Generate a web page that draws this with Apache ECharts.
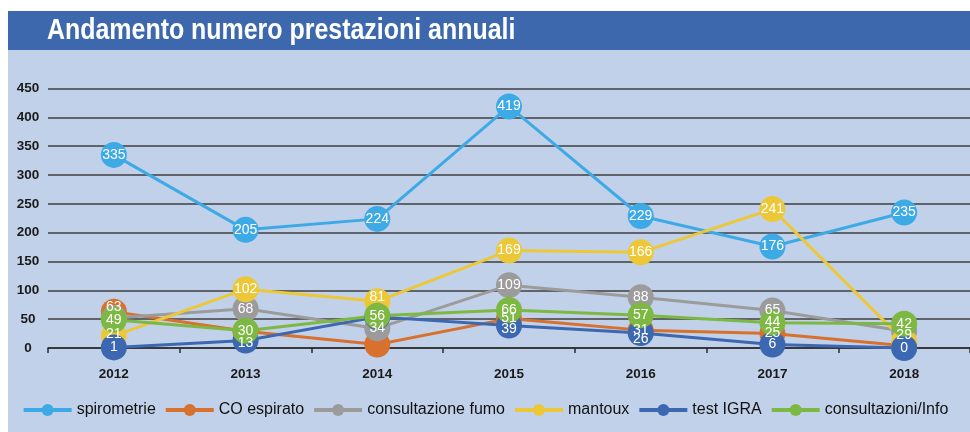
<!DOCTYPE html>
<html>
<head>
<meta charset="utf-8">
<script src="https://cdn.jsdelivr.net/npm/echarts@6/dist/echarts.min.js"></script>
<style>
    html, body { margin: 0; padding: 0; background: #fff; }
    #chart { width: 970px; height: 432px; }
</style>
</head>
<body>
<div id="chart"></div>
<script>
    // anni (asse x)
    var years = ['2012', '2013', '2014', '2015', '2016', '2017', '2018'];

    // valori
    var spirometrie = [335, 205, 224, 419, 229, 176, 235];
    var coEspirato = [63, 29, 6, 51, 31, 25, 4];
    var consultazioneFumo = [52, 68, 34, 109, 88, 65, 29];
    var mantoux = [21, 102, 81, 169, 166, 241, 12];
    var testIgra = [1, 13, 54, 39, 26, 6, 0];
    var consultazioniInfo = [49, 30, 56, 66, 57, 44, 42];

    var yMax = 450;
    var yStep = 50;

    var FONT = '"Liberation Sans", Arial, Helvetica, sans-serif';

    // hidden: etichette coperte nell'originale, shift: piccolo spostamento verticale
    function buildData(values, hidden, shift) {
        return values.map(function (v, i) {
            if (hidden.indexOf(i) > -1) {
                return {value: v, label: {show: false}};
            }
            if (shift[i]) {
                return {value: v, label: {offset: [0, shift[i]]}};
            }
            return v;
        });
    }

    function makeSeries(name, values, color, hidden, shift) {
        return {
            name: name,
            type: 'line',
            data: buildData(values, hidden || [], shift || {}),
            symbol: 'circle',
            symbolSize: 26,
            itemStyle: {color: color},
            lineStyle: {color: color, width: 3},
            label: {
                show: true,
                position: 'inside',
                color: '#fff',
                fontSize: 14,
                fontFamily: FONT
            },
            emphasis: {disabled: true}
        }
    }

    var chart = echarts.init(document.getElementById('chart'));
    var option = {
        animation: false,
        graphic: [
            {
                type: 'rect',
                shape: {x: 8, y: 11, width: 962, height: 39},
                style: {fill: '#3D68AE'},
                z: -10
            },
            {
                type: 'rect',
                shape: {x: 8, y: 50, width: 962, height: 382},
                style: {fill: '#C2D1EA'},
                z: -10
            },
            {
                // titolo con carattere "stretto" come nell'originale
                type: 'text',
                x: 47,
                y: 31,
                scaleX: 0.86,
                style: {
                    text: 'Andamento numero prestazioni annuali',
                    fill: '#fff',
                    font: 'bold 29px ' + FONT,
                    verticalAlign: 'middle'
                },
                z: 10
            }
        ],
        grid: {
            left: 48,
            top: 88.6,
            width: 927,
            bottom: 84,
            containLabel: false
        },
        legend: {
            bottom: 9,
            left: 'center',
            itemWidth: 48,
            itemHeight: 15,
            itemGap: 8,
            textStyle: {
                color: '#111',
                fontSize: 16,
                fontFamily: FONT
            },
            lineStyle: {width: 4}
        },
        xAxis: {
            type: 'category',
            data: years,
            boundaryGap: true,
            axisLine: {lineStyle: {color: '#2b2b2b', width: 1.5}},
            axisTick: {show: true, length: 5, lineStyle: {color: '#2b2b2b', width: 1.5}},
            axisLabel: {
                color: '#1a1a1a',
                fontSize: 13.5,
                fontWeight: 'bold',
                fontFamily: FONT,
                margin: 19
            }
        },
        yAxis: {
            type: 'value',
            min: 0,
            max: yMax,
            interval: yStep,
            axisLine: {show: false},
            axisTick: {show: false},
            splitLine: {lineStyle: {color: '#3f3f3f', width: 1.5}},
            axisLabel: {
                color: '#1a1a1a',
                fontSize: 13.5,
                fontWeight: 'bold',
                fontFamily: FONT,
                align: 'center',
                margin: 20
            }
        },
        series: [
            makeSeries('spirometrie', spirometrie, '#3DAAE6'),
            makeSeries('CO espirato', coEspirato, '#D8702E', [1, 2, 6], {0: -5}),
            makeSeries('consultazione fumo', consultazioneFumo, '#9B9B9B', [0], {6: 4}),
            makeSeries('mantoux', mantoux, '#ECC838', [6], {0: -2, 2: -4}),
            makeSeries('test IGRA', testIgra, '#3B68B0', [2], {1: 3, 3: 4, 4: 6}),
            makeSeries('consultazioni/Info', consultazioniInfo, '#7DB843')
        ]
    };
    chart.setOption(option);
</script>
</body>
</html>
